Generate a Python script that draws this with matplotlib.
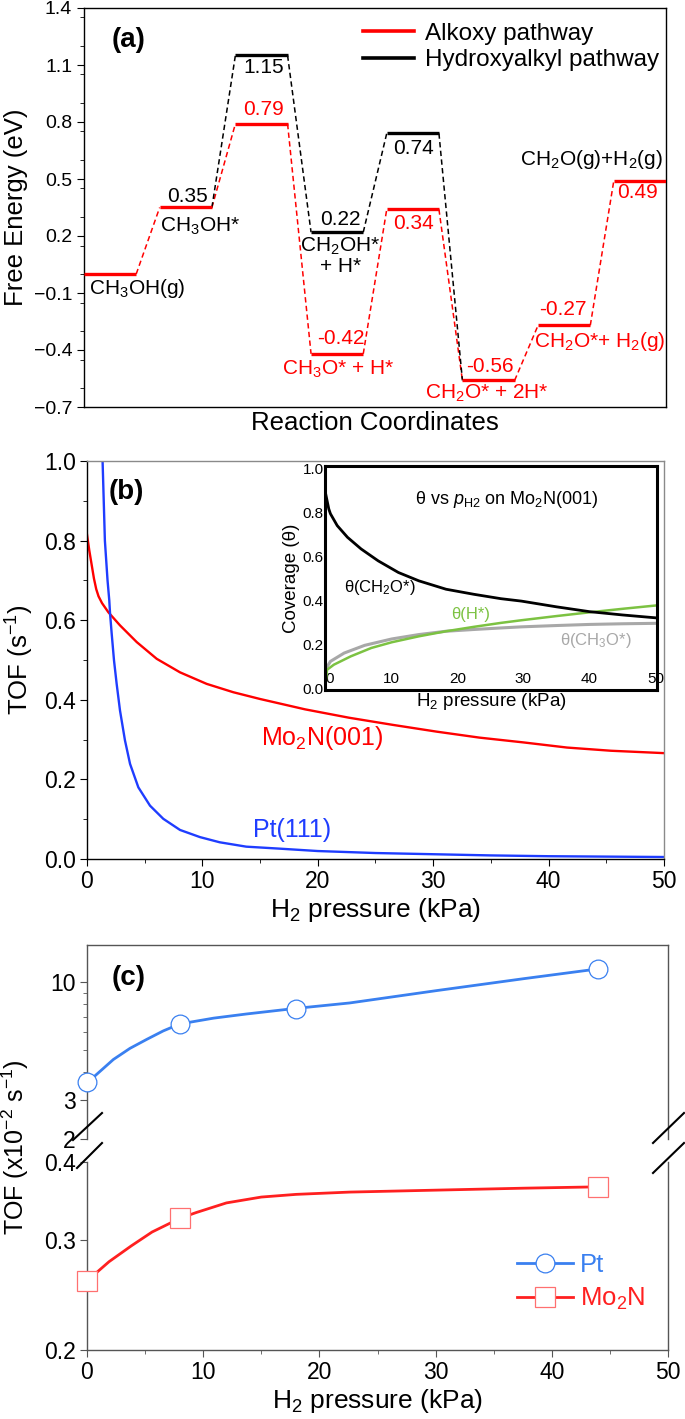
import matplotlib
matplotlib.use("Agg")
import matplotlib.pyplot as plt
from matplotlib.lines import Line2D
from matplotlib.ticker import FixedLocator, NullFormatter, NullLocator, MultipleLocator

plt.rcParams["font.family"] = ["Liberation Sans", "DejaVu Sans"]
plt.rcParams["mathtext.fontset"] = "custom"
plt.rcParams["mathtext.rm"] = "Liberation Sans"
plt.rcParams["mathtext.it"] = "Liberation Sans:italic"
plt.rcParams["mathtext.bf"] = "Liberation Sans:bold"
plt.rcParams["mathtext.default"] = "regular"
plt.rcParams["axes.linewidth"] = 1.0

# ---------------- data (a) ----------------
step_index = [0, 1, 2, 3, 4, 5, 6, 7]
alkoxy_energy = [0.00, 0.35, 0.79, -0.42, 0.34, -0.56, -0.27, 0.49]
hydroxy_index = [1, 2, 3, 4, 5]
hydroxy_energy = [0.35, 1.15, 0.22, 0.74, -0.56]
energy_ticks = [-0.7, -0.4, -0.1, 0.2, 0.5, 0.8, 1.1, 1.4]
energy_ticklabels = ["\u22120.7", "\u22120.4", "\u22120.1", "0.2", "0.5", "0.8", "1.1", "1.4"]

# ---------------- data (b) ----------------
mo2n_p = [0, 0.2, 0.4, 0.6, 0.8, 1.0, 1.3, 1.85, 2.86, 4.31, 6.04, 8.06, 10.37, 12.68,
          15.0, 18.9, 22.7, 26.5, 30.3, 34.0, 37.8, 41.6, 45.4, 50]
mo2n_tof = [0.815, 0.775, 0.74, 0.705, 0.678, 0.66, 0.643, 0.620, 0.587, 0.545, 0.503,
            0.469, 0.440, 0.419, 0.402, 0.376, 0.355, 0.337, 0.32, 0.305, 0.293, 0.28,
            0.272, 0.266]
pt_p = [1.25, 1.35, 1.55, 1.78, 1.93, 2.0, 2.14, 2.34, 2.57, 2.86, 3.29, 3.73, 4.45,
        5.46, 6.61, 8.06, 9.79, 11.5, 13.8, 16.7, 20, 25, 30, 35, 40, 45, 50]
pt_tof = [1.1, 1.0, 0.8, 0.7, 0.65, 0.616, 0.566, 0.499, 0.440, 0.373, 0.298, 0.239,
          0.180, 0.134, 0.101, 0.073, 0.055, 0.042, 0.031, 0.026, 0.02, 0.015, 0.012,
          0.009, 0.007, 0.006, 0.005]
tof_ticks = [0.0, 0.2, 0.4, 0.6, 0.8, 1.0]
p_ticks = [0, 10, 20, 30, 40, 50]

# inset coverages
ch2o_p = [0, 0.05, 0.57, 0.82, 1.85, 3.4, 5.46, 8.04, 11.1, 14.2, 18.3, 22.5, 26.6,
          29.7, 35, 40, 45, 50]
theta_ch2o = [1.0, 0.891, 0.815, 0.793, 0.739, 0.686, 0.633, 0.579, 0.526, 0.488, 0.450,
              0.427, 0.407, 0.396, 0.37, 0.348, 0.333, 0.32]
h_p = [0, 0.31, 1.34, 3.9, 7.0, 10.1, 14.2, 18.3, 22.5, 26.6, 29.7, 35, 40, 45, 50]
theta_h = [0.0, 0.084, 0.107, 0.145, 0.183, 0.209, 0.236, 0.259, 0.279, 0.297, 0.309,
           0.328, 0.345, 0.361, 0.376]
ch3o_p = [0, 0.05, 0.82, 2.9, 6.0, 10.1, 14.2, 18.3, 22.5, 26.6, 29.7, 35, 40, 45, 50]
theta_ch3o = [0.0, 0.084, 0.122, 0.160, 0.195, 0.224, 0.244, 0.259, 0.267, 0.274, 0.279,
              0.285, 0.29, 0.293, 0.295]
cov_ticks = [0.0, 0.2, 0.4, 0.6, 0.8, 1.0]

# ---------------- data (c) ----------------
pt_c_p = [0, 8, 18, 44]
pt_c_tof = [3.6, 6.53, 7.64, 11.5]
pt_curve_p = [0, 0.69, 2.27, 3.7, 5.14, 6.57, 8.0, 10.9, 13.7, 17.75, 22.6, 30.1, 37.6, 44.0]
pt_curve_tof = [3.6, 3.83, 4.53, 5.08, 5.57, 6.08, 6.53, 6.93, 7.23, 7.64, 8.1, 9.2, 10.4, 11.5]
mo_c_p = [0, 8, 44]
mo_c_tof = [0.258, 0.325, 0.365]
mo_curve_p = [0, 1.9, 3.8, 5.6, 8.0, 9.4, 12.0, 15.0, 18.0, 22.6, 30.1, 37.6, 44.0]
mo_curve_tof = [0.258, 0.277, 0.2935, 0.309, 0.325, 0.332, 0.344, 0.3515, 0.355, 0.358,
                0.3606, 0.3632, 0.365]
upper_ticks = [2, 3, 10]
upper_minor = [4, 5, 6, 7, 8, 9]
lower_ticks = [0.2, 0.3, 0.4]

W, H = 685, 1419
fig = plt.figure(figsize=(W / 100, H / 100), dpi=100)


def box(l, t, r, b):
    return [l / W, 1 - b / H, (r - l) / W, (b - t) / H]


# ================= panel (a) =================
axa = fig.add_axes(box(84, 8, 666, 407))
LW = 0.69
red = "#ff0000"
for i, e in zip(step_index, alkoxy_energy):
    axa.plot([i, i + LW], [e, e], color=red, lw=2.4, solid_capstyle="butt", zorder=3)
for i, e in zip(hydroxy_index[1:-1], hydroxy_energy[1:-1]):
    axa.plot([i, i + LW], [e, e], color="black", lw=2.4, solid_capstyle="butt", zorder=3)
for k in range(len(step_index) - 1):
    axa.plot([step_index[k] + LW, step_index[k + 1]],
             [alkoxy_energy[k], alkoxy_energy[k + 1]],
             color=red, lw=1.1, ls=(0, (3.5, 2.2)), zorder=2)
for k in range(len(hydroxy_index) - 1):
    axa.plot([hydroxy_index[k] + LW, hydroxy_index[k + 1]],
             [hydroxy_energy[k], hydroxy_energy[k + 1]],
             color="black", lw=1.1, ls=(0, (3.5, 2.2)), zorder=2)

axa.set_xlim(0, 7.69)
axa.set_ylim(-0.7, 1.4)
axa.set_xticks([])
axa.yaxis.set_major_locator(FixedLocator(energy_ticks))
axa.set_yticklabels(energy_ticklabels)
axa.yaxis.set_minor_locator(MultipleLocator(0.15))
axa.tick_params(axis="y", which="major", direction="out", length=5, labelsize=14)
axa.tick_params(axis="y", which="minor", direction="out", length=3)
axa.set_ylabel("Free Energy (eV)", fontsize=18.5, labelpad=4)
axa.set_xlabel("Reaction Coordinates", fontsize=18.5, labelpad=3)

fs = 15
tk = dict(ha="center", va="center", fontsize=fs)
axa.text(0.71, -0.076, "CH$_3$OH(g)", color="black", **tk)
axa.text(1.37, 0.41, "0.35", color="black", **tk)
axa.text(1.54, 0.249, "CH$_3$OH*", color="black", **tk)
axa.text(2.37, 1.085, "1.15", color="black", **tk)
axa.text(2.37, 0.865, "0.79", color=red, **tk)
axa.text(3.39, 0.285, "0.22", color="black", **tk)
axa.text(3.39, 0.095, "CH$_2$OH*\n+ H*", color="black", linespacing=1.0, **tk)
axa.text(3.39, -0.342, "-0.42", color=red, **tk)
axa.text(3.36, -0.502, "CH$_3$O* + H*", color=red, **tk)
axa.text(4.36, 0.658, "0.74", color="black", **tk)
axa.text(4.36, 0.267, "0.34", color=red, **tk)
axa.text(5.36, -0.488, "-0.56", color=red, **tk)
axa.text(5.32, -0.63, "CH$_2$O* + 2H*", color=red, **tk)
axa.text(6.33, -0.186, "-0.27", color=red, **tk)
axa.text(6.82, -0.355, "CH$_2$O*+ H$_2$(g)", color=red, **tk)
axa.text(6.71, 0.604, "CH$_2$O(g)+H$_2$(g)", color="black", **tk)
axa.text(7.32, 0.427, "0.49", color=red, **tk)
axa.text(0.076, 0.92, "(a)", transform=axa.transAxes, fontsize=20, fontweight="bold",
         ha="center", va="center")

handles_a = [Line2D([], [], color=red, lw=2.6), Line2D([], [], color="black", lw=2.6)]
axa.legend(handles_a, ["Alkoxy pathway", "Hydroxyalkyl pathway"], loc="upper left",
           bbox_to_anchor=(0.455, 1.0), frameon=False, fontsize=17.5, handlelength=2.1,
           handletextpad=0.45, labelspacing=0.2, borderaxespad=0.2)

# ================= panel (b) =================
axb = fig.add_axes(box(87, 461, 664, 859))
axb.plot(mo2n_p, mo2n_tof, color=red, lw=1.7)
axb.plot(pt_p, pt_tof, color="#1f3dff", lw=1.7)
axb.set_xlim(0, 50)
axb.set_ylim(0, 1.0)
axb.yaxis.set_major_locator(FixedLocator(tof_ticks))
axb.set_yticklabels([f"{v:.1f}" for v in tof_ticks])
axb.yaxis.set_minor_locator(MultipleLocator(0.1))
axb.xaxis.set_major_locator(FixedLocator(p_ticks))
axb.set_xticklabels([str(v) for v in p_ticks])
axb.xaxis.set_minor_locator(MultipleLocator(5))
axb.tick_params(which="major", direction="out", length=5, labelsize=16.5, pad=3)
axb.tick_params(which="minor", direction="out", length=3)
for s in ["top", "right"]:
    axb.spines[s].set_color("#8a8a8a")
axb.set_ylabel("TOF (s$^{-1}$)", fontsize=18.5, labelpad=6)
axb.set_xlabel("H$_2$ pressure (kPa)", fontsize=19, labelpad=2)
axb.text(20.4, 0.305, "Mo$_2$N(001)", color=red, fontsize=18, ha="center", va="center")
axb.text(17.8, 0.073, "Pt(111)", color="#1f3dff", fontsize=18, ha="center", va="center")
axb.text(3.4, 0.923, "(b)", fontsize=20, fontweight="bold", ha="center", va="center")

# inset
axi = fig.add_axes(box(325, 466, 657, 690))
axi.set_facecolor("white")
axi.plot(ch3o_p, theta_ch3o, color="#a8a8a8", lw=2.2)
axi.plot(h_p, theta_h, color="#7cc242", lw=1.8)
axi.plot(ch2o_p, theta_ch2o, color="black", lw=2.0)
axi.set_xlim(0, 50.2)
axi.set_ylim(-0.008, 1.01)
for s in axi.spines.values():
    s.set_linewidth(2.2)
axi.xaxis.set_major_locator(FixedLocator(p_ticks))
axi.set_xticklabels([str(v) for v in p_ticks])
axi.yaxis.set_major_locator(FixedLocator(cov_ticks))
axi.set_yticklabels([f"{v:.1f}" for v in cov_ticks])
axi.tick_params(axis="x", direction="in", length=0, pad=-13, labelsize=11)
axi.tick_params(axis="y", direction="out", length=0, pad=1, labelsize=11)
axi.get_xticklabels()[0].set_ha("left")
axi.set_ylabel("Coverage (\u03b8)", fontsize=13.5, labelpad=2)
axi.set_xlabel("H$_2$ pressure (kPa)", fontsize=13.5, labelpad=1)
axi.text(27.4, 0.86, "\u03b8 vs $\\mathit{p}_{H2}$ on Mo$_2$N(001)", fontsize=13,
         ha="center", va="center")
axi.text(8.3, 0.46, "\u03b8(CH$_2$O*)", color="black", fontsize=12, ha="center", va="center")
axi.text(22, 0.335, "\u03b8(H*)", color="#7cc242", fontsize=12, ha="center", va="center")
axi.text(41, 0.217, "\u03b8(CH$_3$O*)", color="#a8a8a8", fontsize=12, ha="center", va="center")

# ================= panel (c) =================
blue_c = "#3a80f0"
red_c = "#ff2020"
axu = fig.add_axes(box(87, 945, 668, 1139))
axl = fig.add_axes(box(87, 1162, 668, 1350))

axu.plot(pt_curve_p, pt_curve_tof, color=blue_c, lw=2.0, zorder=2)
axu.plot(pt_c_p, pt_c_tof, ls="none", marker="o", ms=13.5, mfc="white", mec=blue_c,
         mew=0.9, clip_on=False, zorder=3)
axl.plot(mo_curve_p, mo_curve_tof, color=red_c, lw=2.0, zorder=2)
axl.plot(mo_c_p, mo_c_tof, ls="none", marker="s", ms=14.5, mfc="white", mec="#ff7070",
         mew=0.9, clip_on=False, zorder=3)

for ax in (axu, axl):
    ax.set_xlim(0, 50)
    ax.set_yscale("log")
    for s in ax.spines.values():
        s.set_color("#555555")
axu.set_ylim(2, 14.7)
axl.set_ylim(0.2, 0.4)
axu.spines["bottom"].set_visible(False)
axl.spines["top"].set_visible(False)
axu.set_xticks([])
axu.yaxis.set_major_locator(FixedLocator(upper_ticks))
axu.set_yticklabels([str(v) for v in upper_ticks])
axu.yaxis.set_minor_locator(FixedLocator(upper_minor))
axu.yaxis.set_minor_formatter(NullFormatter())
axl.yaxis.set_major_locator(FixedLocator(lower_ticks))
axl.set_yticklabels([f"{v:.1f}" for v in lower_ticks])
axl.yaxis.set_minor_locator(NullLocator())
axl.yaxis.set_minor_formatter(NullFormatter())
axl.xaxis.set_major_locator(FixedLocator(p_ticks))
axl.set_xticklabels([str(v) for v in p_ticks])
axl.xaxis.set_minor_locator(MultipleLocator(5))
for ax in (axu, axl):
    ax.tick_params(which="major", direction="out", length=5, labelsize=16.5, pad=3,
                   color="#555555")
    ax.tick_params(which="minor", direction="out", length=3, color="#555555")
axu.tick_params(axis="x", which="both", bottom=False)
axl.set_xlabel("H$_2$ pressure (kPa)", fontsize=19, labelpad=2)
axu.text(0.071, 0.83, "(c)", transform=axu.transAxes, fontsize=20, fontweight="bold",
         ha="center", va="center")
fig.text(15 / W, 1 - 1147 / H, "TOF (x10$^{-2}$ s$^{-1}$)", rotation=90, fontsize=18,
         ha="center", va="center")

# break marks
for (x0, y0, x1, y1) in [(73, 1140, 102, 1113), (77, 1168, 102, 1143),
                         (653, 1143, 684, 1113), (653, 1173, 684, 1143)]:
    fig.add_artist(Line2D([x0 / W, x1 / W], [1 - y0 / H, 1 - y1 / H], color="black",
                          lw=1.5, transform=fig.transFigure))

handles_c = [Line2D([], [], color=blue_c, lw=2, marker="o", ms=13.5, mfc="white",
                    mec=blue_c, mew=0.9),
             Line2D([], [], color=red_c, lw=2, marker="s", ms=14.5, mfc="white",
                    mec="#ff7070", mew=0.9)]
leg = axl.legend(handles_c, ["Pt", "Mo$_2$N"], loc="center left",
                 bbox_to_anchor=(0.70, 0.36), frameon=False, fontsize=18.5,
                 handlelength=2.2, handletextpad=0.25, labelspacing=0.35)
for t, c in zip(leg.get_texts(), [blue_c, red_c]):
    t.set_color(c)

fig.savefig("out.png", dpi=100)
